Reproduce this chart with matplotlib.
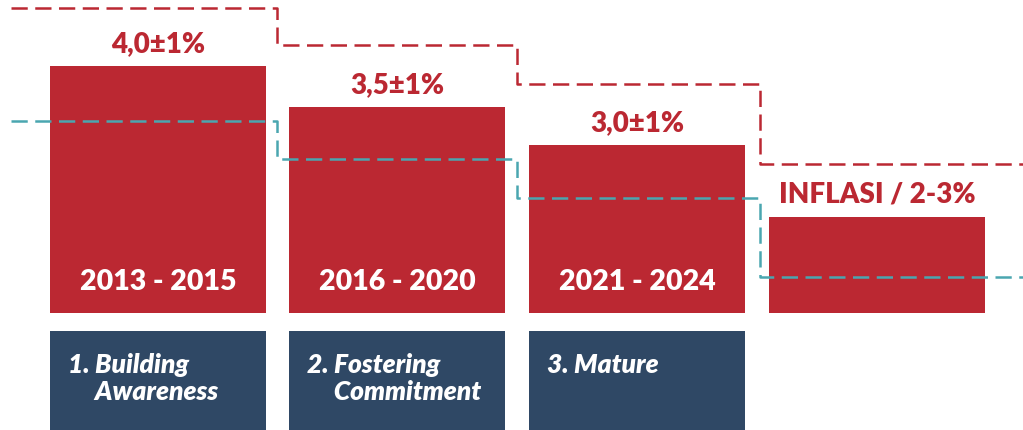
import matplotlib.pyplot as plt

# data
periods = ["2013 - 2015", "2016 - 2020", "2021 - 2024", ""]
targets = ["4,0±1%", "3,5±1%", "3,0±1%", "INFLASI / 2-3%"]
bar_heights = [247, 206, 168, 96]
stages = ["1. Building\n     Awareness", "2. Fostering\n     Commitment", "3. Mature"]
band_edges = [11, 277, 517, 760, 1023]
upper_band = [305, 268, 229, 149]
lower_band = [192, 154, 115, 36]

red = "#BB2832"
navy = "#2F4865"
teal = "#4AA6B0"

x = [158, 397, 637, 877]
width = 216

fig = plt.figure(figsize=(10.23, 4.30), dpi=100)
ax = fig.add_axes([0, 0, 1, 1])
ax.set_xlim(0, 1023)
ax.set_ylim(-117, 313)
ax.axis("off")

ax.bar(x, bar_heights, width=width, color=red, zorder=1)
ax.bar(x[:3], [-120] * 3, bottom=-18, width=width, color=navy, zorder=1)

ax.step(band_edges, upper_band + [upper_band[-1]], where="post",
        color=red, lw=1.8, ls=(0, (6.5, 3)), zorder=2)
ax.step(band_edges, lower_band + [lower_band[-1]], where="post",
        color=teal, lw=1.8, ls=(0, (6.5, 3)), zorder=2)

for xi, h, t in zip(x, bar_heights, targets):
    ax.text(xi, h + 22, t, ha="center", va="center", color=red,
            fontsize=20, fontweight=800, family="Lato", zorder=3)

for xi, p in zip(x, periods):
    ax.text(xi, 31, p, ha="center", va="center", color="white",
            fontsize=20.5, fontweight=800, family="Lato", zorder=3)

for xi, s in zip(x, stages):
    ax.text(xi - 90, -40, s, ha="left", va="top", color="white",
            fontsize=19, fontweight=800, fontstyle="italic",
            family="Lato", linespacing=1.15, zorder=3)

fig.savefig("out.png", dpi=100)
